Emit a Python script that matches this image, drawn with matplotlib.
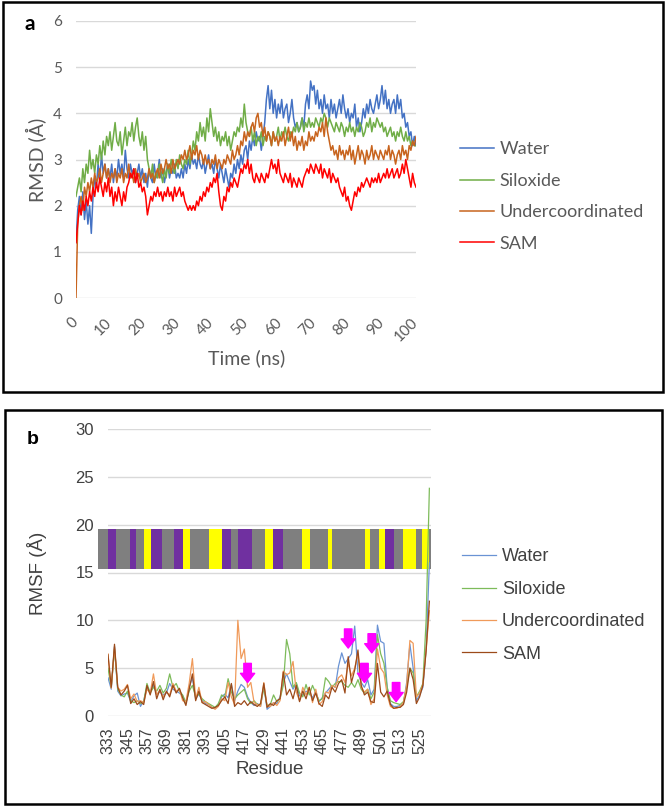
import numpy as np
import matplotlib.pyplot as plt
from matplotlib.patches import Rectangle

# ---- panel a: RMSD vs time (0.5 ns steps) ----
time_ns = np.arange(0, 100.5, 0.5)
rmsd_water = [
    1.2, 1.9, 2.2, 1.8, 2.3, 1.7, 2.1, 1.6, 2.0, 1.4, 2.2, 2.6, 2.4, 2.9, 2.6, 3.1, 2.7, 2.9, 2.6, 2.8,
    2.6, 2.9, 2.5, 2.8, 2.6, 3.0, 2.7, 2.9, 2.6, 3.2, 2.8, 2.6, 2.9, 2.7, 2.8, 2.5, 2.7, 2.9, 2.6, 2.8,
    2.5, 2.7, 2.4, 2.8, 2.6, 2.5, 2.9, 2.6, 2.7, 3.0, 2.6, 2.8, 2.5, 2.7, 2.9, 2.6, 2.8, 2.7, 2.9, 2.6,
    2.7, 2.6, 2.8, 2.6, 2.9, 2.7, 3.0, 2.8, 3.1, 2.9, 3.0, 2.8, 3.1, 2.9, 2.8, 3.0, 2.7, 2.9, 3.1, 2.8,
    2.9, 2.7, 3.0, 2.8, 2.6, 2.9, 2.7, 2.5, 2.8, 2.6, 2.4, 2.7, 2.6, 2.9, 2.7, 3.0, 2.8, 3.1, 2.9, 3.2,
    3.3, 3.0, 3.4, 3.2, 3.5, 3.3, 3.6, 3.4, 3.5, 3.2, 3.5, 3.8, 4.3, 4.6, 4.1, 4.5, 4.0, 4.3, 3.9, 4.2,
    4.0, 4.3, 3.9, 4.1, 4.2, 3.8, 4.0, 4.3, 3.9, 3.7, 3.8, 3.6, 3.7, 3.9, 3.7, 4.2, 4.4, 4.1, 4.7, 4.5,
    4.6, 4.2, 4.5, 4.1, 4.3, 4.0, 4.4, 4.1, 4.2, 3.9, 4.3, 4.0, 4.2, 3.9, 4.1, 4.3, 4.0, 4.4, 4.1, 3.9,
    4.1, 3.8, 4.0, 3.9, 4.2, 3.7, 3.9, 3.6, 3.8, 4.1, 3.9, 4.2, 4.0, 4.3, 4.1, 4.0, 4.2, 4.4, 4.1, 4.3,
    4.6, 4.2, 4.5, 4.1, 4.3, 4.0, 4.2, 4.3, 4.0, 4.4, 4.1, 4.3, 3.9, 4.0, 3.7, 3.8, 3.5, 3.6, 3.3, 3.5,
    3.3]
rmsd_siloxide = [
    2.2, 2.4, 2.6, 2.3, 2.8, 2.5, 2.9, 2.7, 3.2, 2.8, 3.0, 2.7, 3.1, 2.9, 3.3, 3.0, 3.4, 3.1, 3.5, 3.3,
    3.6, 3.2, 3.5, 3.8, 3.4, 3.3, 3.6, 3.1, 3.4, 3.7, 3.3, 3.6, 3.5, 3.8, 3.4, 3.7, 3.9, 3.5, 3.3, 3.6,
    3.2, 3.5, 3.0, 2.8, 2.6, 2.9, 2.5, 2.7, 2.6, 2.9, 2.7, 2.5, 2.8, 2.6, 2.9, 2.7, 3.0, 2.8, 2.7, 3.0,
    2.8, 3.1, 2.9, 2.8, 3.0, 2.9, 3.2, 2.9, 3.1, 3.4, 3.2, 3.6, 3.4, 3.8, 3.5, 3.7, 3.4, 3.9, 3.6, 4.1,
    3.8, 3.5, 3.7, 3.4, 3.6, 3.3, 3.5, 3.4, 3.6, 3.3, 3.5, 3.2, 3.4, 3.6, 3.5, 3.7, 3.6, 3.9, 3.7, 4.2,
    3.8, 3.6, 3.5, 3.7, 3.4, 3.6, 3.3, 3.5, 3.4, 3.6, 3.3, 3.5, 3.4, 3.6, 3.5, 3.3, 3.6, 3.4, 3.5, 3.7,
    3.4, 3.6, 3.5, 3.7, 3.5, 3.4, 3.6, 3.5, 3.7, 3.6, 3.8, 3.6, 3.7, 3.9, 3.6, 3.8, 3.7, 3.9, 3.7, 3.8,
    3.7, 3.9, 3.8, 3.7, 3.9, 3.8, 4.0, 3.9, 3.7, 3.9, 3.8, 3.7, 3.6, 3.8, 3.7, 3.6, 3.8, 3.7, 3.5, 3.7,
    3.6, 3.8, 3.6, 3.7, 3.5, 3.7, 3.6, 3.8, 3.7, 3.5, 3.6, 3.8, 3.7, 3.9, 3.6, 3.8, 3.7, 3.9, 3.8, 3.7,
    3.8, 3.6, 3.7, 3.5, 3.6, 3.7, 3.5, 3.6, 3.4, 3.6, 3.5, 3.7, 3.5, 3.4, 3.6, 3.4, 3.5, 3.3, 3.4, 3.3,
    3.3]
rmsd_under = [
    0.0, 1.6, 2.0, 2.2, 1.9, 2.4, 2.2, 2.5, 2.3, 2.6, 2.4, 2.7, 2.5, 2.6, 2.8, 2.5, 2.7, 2.9, 2.6, 2.8,
    2.5, 2.7, 2.6, 2.8, 2.5, 2.7, 2.6, 2.8, 2.5, 2.7, 2.6, 2.9, 2.6, 2.7, 2.5, 2.8, 2.6, 2.7, 2.5, 2.6,
    2.7, 2.5, 2.6, 2.8, 2.6, 2.7, 2.5, 2.7, 2.8, 2.6, 2.9, 2.7, 2.8, 3.0, 2.8, 2.9, 2.7, 3.0, 2.8, 2.9,
    3.0, 2.9, 3.1, 3.0, 3.2, 3.0, 3.1, 3.3, 3.0, 3.2, 3.1, 3.3, 3.0, 3.2, 3.1, 2.9, 3.1, 2.9, 3.0, 2.8,
    3.0, 2.9, 3.1, 2.8, 3.0, 2.9, 2.8, 3.0, 2.9, 3.1, 3.0, 2.9, 3.2, 3.0, 3.1, 3.3, 3.1, 3.4, 3.3, 3.6,
    3.4, 3.6, 3.5, 3.7, 3.8, 3.6, 3.9, 4.0, 3.7, 3.8, 3.5, 3.7, 3.4, 3.6, 3.5, 3.3, 3.6, 3.4, 3.5, 3.3,
    3.5, 3.4, 3.6, 3.3, 3.5, 3.7, 3.4, 3.6, 3.3, 3.5, 3.2, 3.4, 3.3, 3.5, 3.2, 3.4, 3.3, 3.6, 3.4, 3.5,
    3.4, 3.6, 3.5, 3.7, 3.6, 3.8, 3.5, 3.9, 3.6, 3.4, 3.2, 3.3, 3.1, 3.2, 3.0, 3.3, 3.1, 3.2, 3.0, 3.2,
    3.1, 3.3, 3.0, 3.2, 2.9, 3.1, 3.3, 3.0, 3.2, 3.1, 2.9, 3.2, 3.0, 3.1, 3.3, 3.0, 3.2, 3.1, 3.0, 3.2,
    3.1, 3.0, 3.2, 3.1, 3.3, 3.0, 3.2, 3.1, 2.9, 3.1, 3.2, 3.0, 3.3, 3.1, 3.2, 3.0, 3.3, 3.2, 3.4, 3.3,
    3.5]
rmsd_sam = [
    1.2, 1.6, 2.0, 1.8, 2.1, 1.9, 2.2, 2.0, 2.3, 2.1, 2.4, 2.2, 2.5, 2.3, 2.6, 2.4, 2.2, 2.5, 2.3, 2.6,
    2.2, 2.4, 2.0, 2.3, 2.1, 2.4, 2.2, 2.0, 2.3, 2.1, 2.4, 2.5, 2.7, 2.6, 2.8, 2.5, 2.7, 2.4, 2.5, 2.3,
    2.4, 2.2, 1.8, 2.0, 2.2, 2.1, 2.3, 2.2, 2.4, 2.2, 2.3, 2.1, 2.3, 2.2, 2.4, 2.2, 2.3, 2.1, 2.4, 2.2,
    2.3, 2.4, 2.2, 2.3, 2.1, 2.0, 1.9, 2.0, 1.9, 2.0, 1.9, 2.1, 2.0, 2.2, 2.1, 2.3, 2.2, 2.4, 2.3, 2.5,
    2.4, 2.6, 2.5, 2.7, 2.3, 2.0, 1.9, 2.2, 2.1, 2.4, 2.3, 2.5, 2.4, 2.6, 2.5, 2.4, 2.6, 2.8, 2.7, 2.9,
    2.8, 3.0, 2.7, 2.9, 2.6, 2.5, 2.7, 2.6, 2.5, 2.7, 2.6, 2.5, 2.7, 2.6, 2.8, 3.0, 2.8, 2.9, 2.7, 3.0,
    2.7, 2.6, 2.5, 2.7, 2.6, 2.5, 2.7, 2.4, 2.6, 2.5, 2.4, 2.6, 2.5, 2.4, 2.6, 2.7, 2.8, 2.7, 2.9, 2.8,
    2.7, 2.9, 2.8, 2.7, 2.9, 2.6, 2.8, 2.7, 2.6, 2.8, 2.5, 2.7, 2.6, 2.5, 2.6, 2.4, 2.3, 2.2, 2.4, 2.1,
    2.2, 2.0, 1.9, 2.1, 2.3, 2.2, 2.4, 2.3, 2.5, 2.4, 2.5, 2.6, 2.5, 2.4, 2.6, 2.5, 2.6, 2.5, 2.7, 2.5,
    2.6, 2.7, 2.6, 2.8, 2.6, 2.7, 2.8, 2.6, 2.7, 2.8, 2.6, 2.7, 2.9, 2.7, 3.0, 2.8, 2.6, 2.4, 2.7, 2.5,
    2.4]

# ---- panel b: RMSF per residue (every 2nd residue) ----
residue = np.arange(333, 533, 2)
rmsf_water = [
    4.0, 2.8, 7.3, 2.6, 2.1, 2.3, 2.4, 1.5, 2.1, 2.4, 1.0, 1.6, 3.0, 2.5, 3.2, 2.3, 2.5, 2.2, 2.4, 3.4,
    2.8, 2.6, 2.4, 2.1, 1.3, 3.0, 4.0, 1.8, 2.3, 1.6, 1.3, 1.2, 0.9, 0.8, 1.2, 2.0, 2.3, 1.9, 3.3, 1.6,
    2.6, 3.3, 3.0, 2.0, 1.4, 1.1, 1.3, 1.0, 3.2, 0.7, 1.0, 1.4, 1.3, 2.0, 3.5, 4.4, 3.6, 2.8, 3.4, 2.1,
    2.2, 2.6, 2.4, 1.9, 2.6, 1.5, 1.9, 2.4, 2.8, 3.2, 3.0, 5.2, 6.6, 5.5, 6.0, 6.5, 9.4, 4.5, 3.5, 3.0,
    3.8, 2.2, 2.8, 9.5, 7.8, 7.6, 3.0, 1.3, 1.0, 1.0, 1.1, 1.3, 3.5, 7.5, 5.0, 1.6, 2.2, 3.0, 7.0, 16.0]
rmsf_siloxide = [
    5.0, 3.0, 7.0, 2.8, 2.2, 2.0, 2.6, 1.6, 1.4, 1.6, 1.3, 1.5, 3.4, 2.4, 3.0, 2.6, 3.2, 2.4, 2.9, 4.4,
    3.0, 3.4, 2.6, 2.2, 1.4, 2.6, 3.2, 2.0, 2.3, 1.8, 1.5, 1.3, 1.1, 0.9, 1.3, 2.2, 2.0, 3.9, 2.5, 1.8,
    2.2, 2.5, 2.8, 1.8, 1.3, 1.6, 1.2, 1.2, 2.9, 1.1, 1.2, 2.2, 1.5, 1.8, 3.2, 8.0, 6.5, 3.0, 3.5, 2.4,
    2.0, 3.3, 2.2, 3.2, 2.4, 1.6, 1.8, 4.0, 3.6, 3.0, 3.4, 3.6, 3.6, 3.2, 3.0, 3.5, 3.0, 3.8, 2.8, 2.4,
    2.8, 1.8, 2.5, 8.5, 6.5, 5.5, 3.0, 1.6, 1.4, 1.3, 1.2, 1.5, 3.0, 5.0, 4.5, 2.0, 2.6, 3.4, 10.0, 23.8]
rmsf_under = [
    6.5, 2.9, 7.2, 3.0, 2.6, 2.8, 3.3, 1.8, 2.3, 1.5, 1.6, 1.4, 2.8, 2.4, 4.4, 2.2, 2.7, 2.0, 2.5, 2.2,
    3.4, 2.6, 2.8, 1.6, 1.5, 3.4, 6.0, 1.8, 3.0, 1.4, 1.5, 1.2, 0.9, 0.7, 1.0, 1.8, 1.6, 3.5, 2.0, 1.2,
    10.0, 6.0, 7.0, 3.0, 3.5, 1.4, 1.2, 1.0, 3.5, 1.0, 1.0, 1.4, 1.1, 1.6, 4.7, 4.3, 4.5, 5.7, 2.5, 1.6,
    3.0, 2.2, 3.0, 1.4, 2.8, 1.2, 1.5, 2.5, 2.4, 3.2, 3.0, 4.0, 4.3, 3.5, 5.5, 4.2, 5.0, 6.5, 3.0, 2.5,
    2.8, 1.2, 1.8, 7.0, 5.0, 4.5, 2.2, 1.0, 0.8, 0.8, 1.0, 1.4, 3.2, 7.9, 7.6, 2.0, 2.4, 3.3, 7.0, 11.0]
rmsf_sam = [
    6.4, 3.0, 7.5, 3.0, 2.2, 2.6, 3.2, 1.3, 1.8, 1.2, 1.5, 1.2, 3.2, 2.2, 3.6, 1.8, 2.8, 1.7, 2.6, 2.0,
    3.2, 2.4, 2.9, 1.9, 1.1, 2.8, 4.4, 1.6, 2.6, 1.4, 1.2, 1.0, 0.8, 0.9, 1.1, 1.6, 2.0, 1.3, 3.4, 1.0,
    1.4, 1.2, 1.6, 1.1, 1.5, 1.2, 1.0, 1.3, 3.4, 0.9, 1.3, 1.1, 1.6, 1.8, 4.6, 2.2, 2.8, 1.8, 3.2, 1.5,
    2.6, 1.8, 3.0, 1.6, 2.4, 1.3, 1.0, 2.2, 1.8, 3.0, 2.5, 3.4, 3.8, 2.4, 6.2, 3.5, 4.8, 6.9, 3.2, 2.2,
    2.5, 1.5, 1.4, 5.5, 2.5, 2.0, 2.6, 1.2, 0.8, 0.9, 0.9, 1.2, 2.5, 5.0, 3.8, 1.3, 2.0, 3.2, 6.8, 12.0]

# secondary-structure strip (residue edges + colour code)
strip_edges = [327, 333.2, 337.9, 346.5, 350.2, 355.2, 359.3, 366.0, 373.6, 379.0, 383.5, 395.2,
               403.0, 408.5, 413.4, 421.6, 430.0, 434.7, 440.9, 452.6, 457.3, 468.6, 471.3,
               491.2, 494.7, 499.8, 503.5, 509.0, 514.7, 523.0, 526.7, 530.7, 532]
strip_codes = "GPGPGYPGPYGYPGPGYPGYGYGYGYPGYGYG"
strip_colors = {'G': '#7F7F7F', 'P': '#7030A0', 'Y': '#FFFF00'}

# magenta arrows (residue, tip value)
arrow_res = [419, 481, 495.5, 491, 510.5]
arrow_tip = [3.5, 7.1, 6.6, 3.5, 1.5]

W, H = 666, 807
def fx(x): return x / W
def fy(y): return 1 - y / H

fig = plt.figure(figsize=(W / 100, H / 100), dpi=100)

# panel frames
fig.add_artist(Rectangle((fx(3), fy(392)), fx(660), 390 / H, transform=fig.transFigure,
                         fill=False, ec='black', lw=1.8))
fig.add_artist(Rectangle((fx(5), fy(804)), fx(657), 394 / H, transform=fig.transFigure,
                         fill=False, ec='black', lw=1.8))

# ---------------- panel a ----------------
fa = ['Lato', 'DejaVu Sans']
tc = '#595959'
ax1 = fig.add_axes([fx(76), fy(298), fx(340), 277 / H])
ax1.plot(time_ns, rmsd_water, color='#4472C4', lw=1.1, label='Water')
ax1.plot(time_ns, rmsd_siloxide, color='#70AD47', lw=1.1, label='Siloxide')
ax1.plot(time_ns, rmsd_under, color='#C8641E', lw=1.1, label='Undercoordinated')
ax1.plot(time_ns, rmsd_sam, color='#FF0000', lw=1.1, label='SAM')
ax1.set_xlim(0, 100)
ax1.set_ylim(0, 6)
ax1.set_yticks(range(0, 7))
ax1.set_xticks(range(0, 101, 10))
ax1.set_yticklabels([str(v) for v in range(0, 7)], family=fa, fontsize=11, color=tc)
ax1.set_xticklabels([str(v) for v in range(0, 101, 10)], family=fa, fontsize=11, color=tc,
                    rotation=45, ha='right', va='center', rotation_mode='anchor')
ax1.tick_params(axis='y', length=0, pad=10)
ax1.tick_params(axis='x', length=0, pad=16)
ax1.yaxis.grid(True, color='#D9D9D9', lw=1)
ax1.set_axisbelow(True)
for s in ax1.spines.values():
    s.set_visible(False)
fig.text(fx(36), fy(160), 'RMSD (Å)', rotation=90, ha='center', va='center',
         family=fa, fontsize=14, color=tc)
fig.text(fx(247), fy(358), 'Time (ns)', ha='center', va='center', family=fa, fontsize=14, color=tc)
fig.text(fx(30), fy(24), 'a', ha='center', va='center', family=fa, fontsize=15,
         fontweight='bold', color='black')
leg = ax1.legend(loc='center left', bbox_to_anchor=(fx(460), fy(196.5)),
                 bbox_transform=fig.transFigure, frameon=False, borderpad=0, borderaxespad=0,
                 handlelength=1.9, handletextpad=0.3, labelspacing=0.85,
                 prop={'family': fa, 'size': 13})
for t in leg.get_texts():
    t.set_color(tc)

# ---------------- panel b ----------------
fb = ['Liberation Sans', 'DejaVu Sans']
tb = '#404040'
ax2 = fig.add_axes([fx(108), fy(716), fx(323), 287 / H])
for i, c in enumerate(strip_codes):
    ax2.add_patch(Rectangle((strip_edges[i], 15.4), strip_edges[i + 1] - strip_edges[i], 4.1,
                            facecolor=strip_colors[c], edgecolor='none', clip_on=False, zorder=1.5))
ax2.plot(residue, rmsf_water, color='#6A93D4', lw=0.9, label='Water', zorder=2)
ax2.plot(residue, rmsf_siloxide, color='#7DBB5A', lw=0.9, label='Siloxide', zorder=2)
ax2.plot(residue, rmsf_under, color='#F09A5A', lw=0.9, label='Undercoordinated', zorder=2)
ax2.plot(residue, rmsf_sam, color='#9C4A1A', lw=0.9, label='SAM', zorder=2)
for r, tip in zip(arrow_res, arrow_tip):
    ax2.annotate('', xy=(r, tip), xytext=(r, tip + 2.0),
                 arrowprops=dict(arrowstyle='simple,head_length=0.55,head_width=0.85,tail_width=0.45',
                                 color='#FF00FF', shrinkA=0, shrinkB=0, mutation_scale=12),
                 zorder=3)
ax2.set_xlim(333, 532)
ax2.set_ylim(0, 30)
ax2.set_yticks(range(0, 31, 5))
ax2.set_yticklabels([str(v) for v in range(0, 31, 5)], family=fb, fontsize=12, color=tb)
xt = list(range(333, 526, 12))
ax2.set_xticks(xt)
ax2.set_xticklabels([str(v) for v in xt], family=fb, fontsize=11.5, color=tb, rotation=90)
ax2.tick_params(axis='y', length=0, pad=10)
ax2.tick_params(axis='x', length=0, pad=8)
ax2.yaxis.grid(True, color='#D9D9D9', lw=1)
ax2.set_axisbelow(True)
for s in ax2.spines.values():
    s.set_visible(False)
fig.text(fx(37), fy(573), 'RMSF (Å)', rotation=90, ha='center', va='center',
         family=fb, fontsize=13.5, color=tb)
fig.text(fx(270), fy(770), 'Residue', ha='center', va='center', family=fb, fontsize=13.5, color=tb)
fig.text(fx(33), fy(439), 'b', ha='center', va='center', family=fb, fontsize=14,
         fontweight='bold', color='black')
leg2 = ax2.legend(loc='center left', bbox_to_anchor=(fx(462), fy(605.5)),
                  bbox_transform=fig.transFigure, frameon=False, borderpad=0, borderaxespad=0,
                  handlelength=1.9, handletextpad=0.3, labelspacing=0.85,
                  prop={'family': fb, 'size': 13})
for t in leg2.get_texts():
    t.set_color(tb)

fig.savefig('out.png', dpi=100)
